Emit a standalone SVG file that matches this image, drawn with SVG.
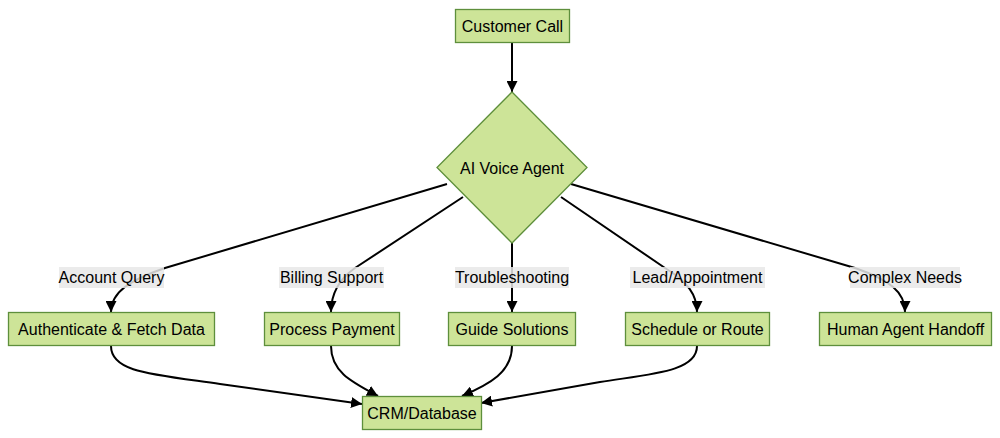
<svg xmlns="http://www.w3.org/2000/svg" width="1000" height="438" viewBox="0 0 1000 438">
<style>
.node rect, .node polygon { fill: #cde498; stroke: #5e8f3c; stroke-width: 1.3; }
.node text, .lbl text { font-family: "Liberation Sans", Arial, sans-serif; font-size: 16px; fill: #000; text-anchor: middle; dominant-baseline: central; }
.edge { fill: none; stroke: #000; stroke-width: 2; marker-end: url(#arr); }
.lbl rect { fill: #e8e8e8; opacity: 0.85; }
</style>
<defs>
<marker id="arr" viewBox="0 0 10 10" refX="10" refY="5" markerWidth="11" markerHeight="11" markerUnits="userSpaceOnUse" orient="auto">
<path d="M0,0 L10,5 L0,10 z" fill="#000"/>
</marker>
</defs>
<rect width="1000" height="438" fill="#fff"/>
<g id="connectors">
<path class="edge" d="M447,184 L165,268 C130,280 111,292 111,312"/>
<path class="edge" d="M512,42 L512,92"/>
<path class="edge" d="M463,197 L355,268 C338,280 331,295 331,312"/>
<path class="edge" d="M512,243 L512,312"/>
<path class="edge" d="M561,197 L665,268 C688,282 697,295 697,312"/>
<path class="edge" d="M571,184 L855,268 C890,280 905,292 905,312"/>
<path class="edge" d="M111,346 C111,372 150,374 220,384 L362,404"/>
<path class="edge" d="M331,346 C331,372 352,382 378,396"/>
<path class="edge" d="M512,346 C512,372 490,384 462,396"/>
<path class="edge" d="M697,346 C697,372 650,374 600,382 L481,403"/>
</g>
<g id="labels">
<g class="lbl"><rect x="59" y="267" width="105" height="21"/><text x="111.5" y="277.5">Account Query</text></g>
<g class="lbl"><rect x="279" y="267" width="105" height="21"/><text x="331.5" y="277.5">Billing Support</text></g>
<g class="lbl"><rect x="455" y="267" width="114" height="21"/><text x="512" y="277.5">Troubleshooting</text></g>
<g class="lbl"><rect x="630" y="267" width="135" height="21"/><text x="697.5" y="277.5">Lead/Appointment</text></g>
<g class="lbl"><rect x="850" y="267" width="110" height="21"/><text x="905" y="277.5">Complex Needs</text></g>
</g>
<g id="customer-call" class="node"><rect x="455.5" y="9.5" width="114" height="33"/><text x="512.5" y="26">Customer Call</text></g>
<g id="ai-voice-agent" class="node"><polygon points="512,92 587,167.5 512,243 437,167.5"/><text x="512" y="168">AI Voice Agent</text></g>
<g id="authenticate" class="node"><rect x="8.5" y="312.5" width="206" height="33"/><text x="111.5" y="329">Authenticate &amp; Fetch Data</text></g>
<g id="process-payment" class="node"><rect x="264.5" y="312.5" width="135" height="33"/><text x="332" y="329">Process Payment</text></g>
<g id="guide-solutions" class="node"><rect x="448.5" y="312.5" width="127" height="33"/><text x="512" y="329">Guide Solutions</text></g>
<g id="schedule-route" class="node"><rect x="625.5" y="312.5" width="144" height="33"/><text x="697.5" y="329">Schedule or Route</text></g>
<g id="human-handoff" class="node"><rect x="819.5" y="312.5" width="172" height="33"/><text x="905.5" y="329">Human Agent Handoff</text></g>
<g id="crm-database" class="node"><rect x="362.5" y="396.5" width="119" height="33"/><text x="422" y="413">CRM/Database</text></g>
</svg>
